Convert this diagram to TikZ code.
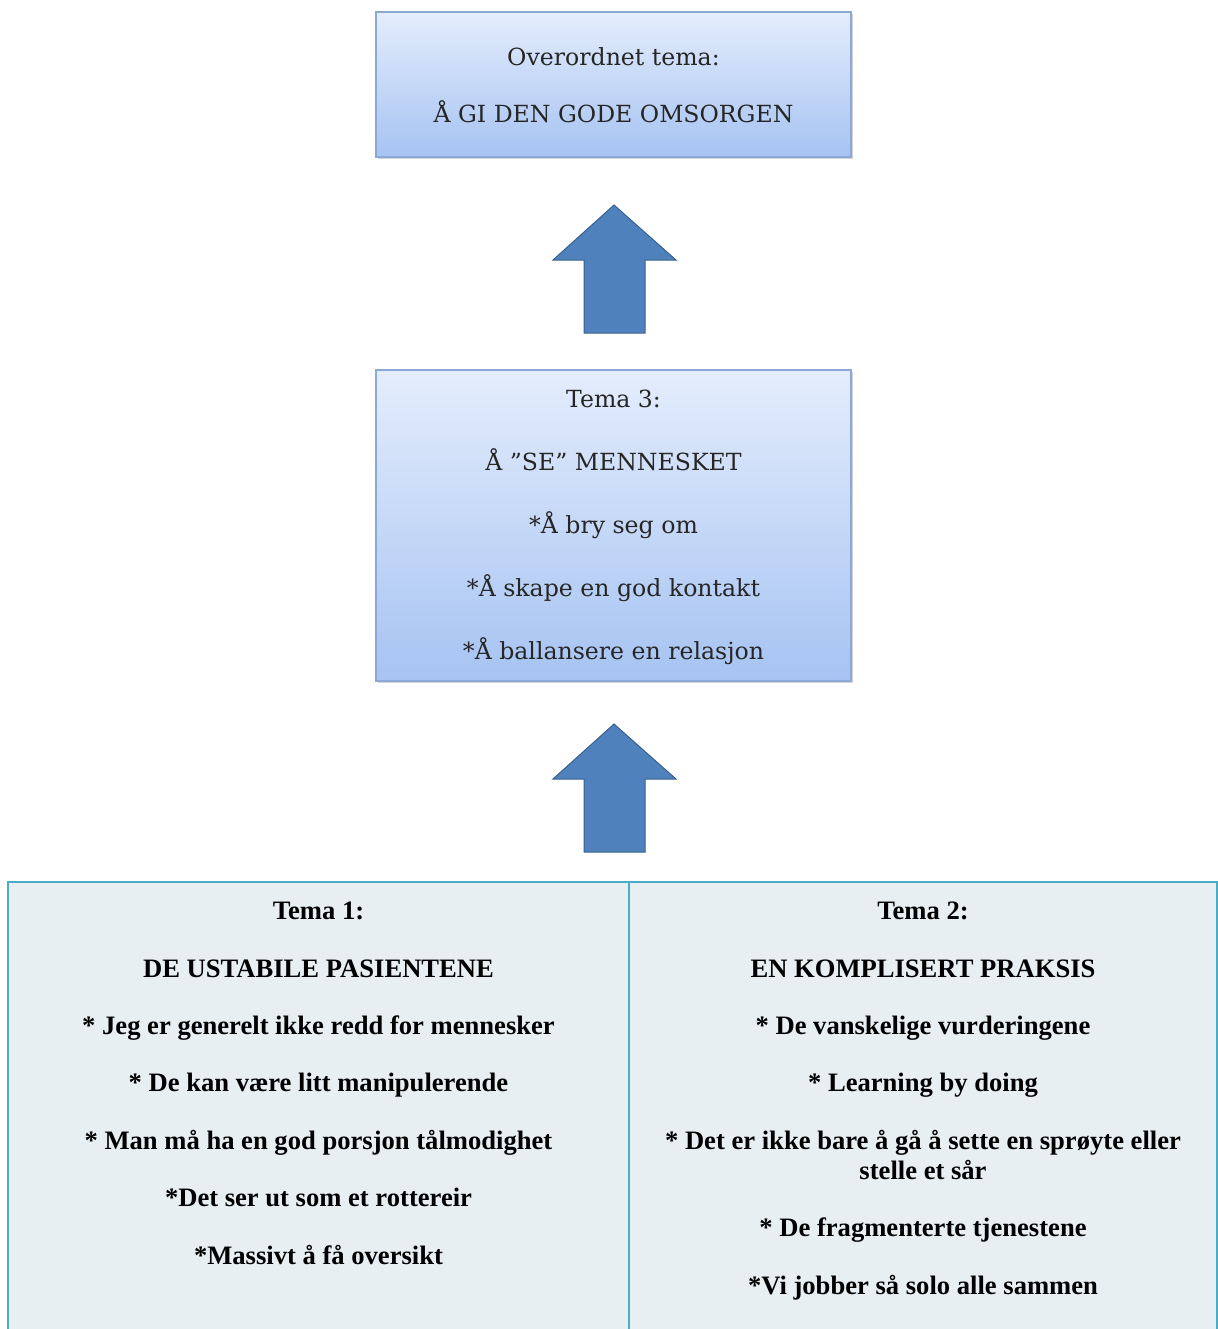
\documentclass[tikz,border=0pt]{standalone}
\usepackage{fontspec}
\setmainfont{Liberation Serif}
\newfontfamily\boxfont{DejaVu Serif}
\usetikzlibrary{shadows}

\definecolor{boxtop}{RGB}{228,237,252}
\definecolor{boxbot}{RGB}{166,195,242}
\definecolor{boxline}{RGB}{140,168,214}
\definecolor{arrowfill}{RGB}{79,129,189}
\definecolor{arrowline}{RGB}{58,96,142}
\definecolor{tabfill}{RGB}{232,239,243}
\definecolor{tabline}{RGB}{75,172,198}

\begin{document}
\begin{tikzpicture}[x=0.5pt,y=-0.5pt,
  themebox/.style={draw=boxline,line width=0.6pt,top color=boxtop,bottom color=boxbot,
    drop shadow={opacity=0.35,shadow xshift=1.2pt,shadow yshift=-1.2pt},
    minimum width=237.5pt,inner sep=0pt},
  boxtext/.style={align=center,text=black!85,font=\boxfont\fontsize{11.8}{14}\selectfont},
  tabtext/.style={align=center,font=\bfseries\fontsize{13.3}{15}\selectfont},
  bigarrow/.style={fill=arrowfill,draw=arrowline,line width=0.5pt}]
  \useasboundingbox (0,0) rectangle (1218,1329);

  % Overordnet tema
  \node[themebox,minimum height=72.5pt] (top) at (613.5,84.5) {};
  \node[boxtext] (toptext) at ([yshift=-0.5pt]top.center)
    {Overordnet tema:\\[14.5pt] Å GI DEN GODE OMSORGEN};

  % Tema 3
  \node[themebox,minimum height=155.5pt] (mid) at (613.5,525.5) {};
  \node[boxtext] (midtext) at ([yshift=-1pt]mid.center)
    {Tema 3:\\[17.5pt] Å ”SE” MENNESKET\\[17.5pt] *Å bry seg om\\[17.5pt]
     *Å skape en god kontakt\\[17.5pt] *Å ballansere en relasjon};

  % Pilene
  \foreach \t in {205,724}
    \draw[bigarrow] (614,\t) -- (676,\t+55) -- (645,\t+55) -- (645,\t+128)
      -- (584,\t+128) -- (584,\t+55) -- (553,\t+55) -- cycle;

  % Tabell
  \fill[tabfill] (8,882) rectangle (1217,1329);
  \draw[tabline,line width=1.2pt] (8,1329) -- (8,882) -- (1217,882) -- (1217,1329);
  \draw[tabline,line width=1pt] (629,882) -- (629,1329);

  \node[tabtext,anchor=north] (tema1) at (318.5,895)
    {Tema 1:\\[13.7pt] DE USTABILE PASIENTENE\\[13.7pt]
     * Jeg er generelt ikke redd for mennesker\\[13.7pt]
     * De kan være litt manipulerende\\[13.7pt]
     * Man må ha en god porsjon tålmodighet\\[13.7pt]
     *Det ser ut som et rottereir\\[13.7pt]
     *Massivt å få oversikt};
  \node[tabtext,anchor=north] (tema2) at (923,895)
    {Tema 2:\\[13.7pt] EN KOMPLISERT PRAKSIS\\[13.7pt]
     * De vanskelige vurderingene\\[13.7pt]
     * Learning by doing\\[13.7pt]
     * Det er ikke bare å gå å sette en sprøyte eller\\ stelle et sår\\[13.7pt]
     * De fragmenterte tjenestene\\[13.7pt]
     *Vi jobber så solo alle sammen};
\end{tikzpicture}
\end{document}
